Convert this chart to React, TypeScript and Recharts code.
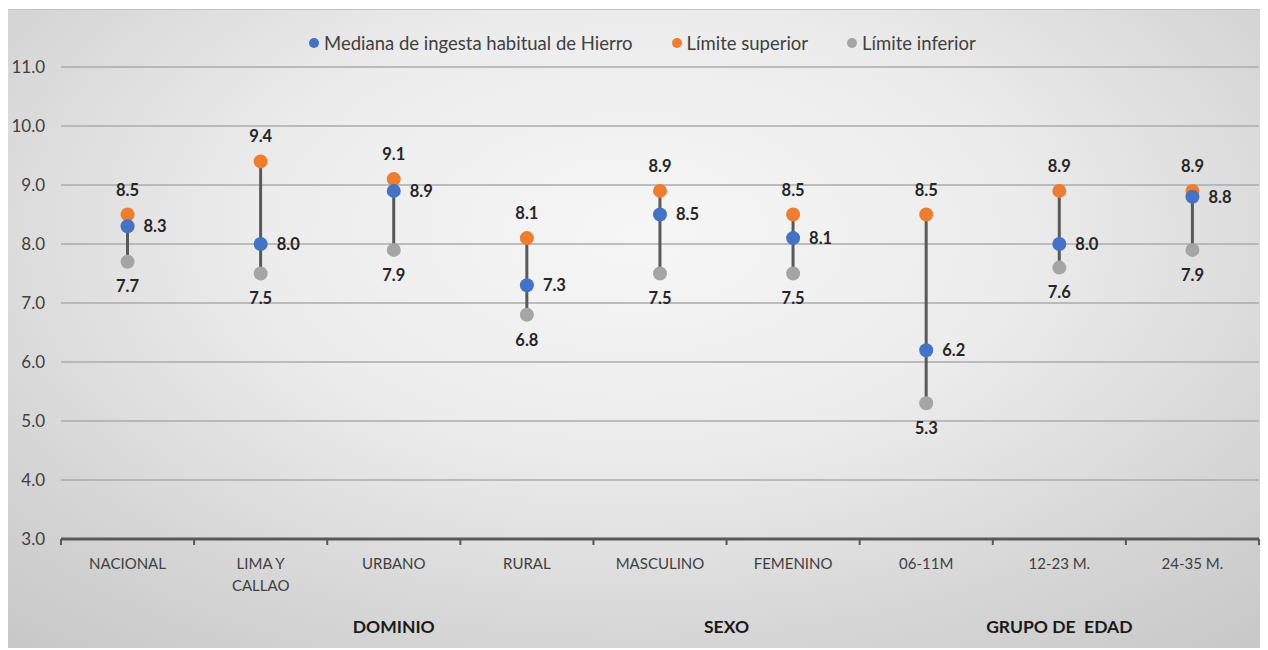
import React from 'react';
import { ComposedChart, Bar, Line, XAxis, YAxis, CartesianGrid, LabelList } from 'recharts';

const categories = ['NACIONAL', 'LIMA Y|CALLAO', 'URBANO', 'RURAL', 'MASCULINO', 'FEMENINO', '06-11M', '12-23 M.', '24-35 M.'];
const medianValues = [8.3, 8.0, 8.9, 7.3, 8.5, 8.1, 6.2, 8.0, 8.8];
const upperValues = [8.5, 9.4, 9.1, 8.1, 8.9, 8.5, 8.5, 8.9, 8.9];
const lowerValues = [7.7, 7.5, 7.9, 6.8, 7.5, 7.5, 5.3, 7.6, 7.9];
const groups = [
  { name: 'DOMINIO', at: 2.5 },
  { name: 'SEXO', at: 5 },
  { name: 'GRUPO DE  EDAD', at: 7.5 },
];
const yTicks = [3, 4, 5, 6, 7, 8, 9, 10, 11];
const seriesNames = ['Mediana de ingesta habitual de Hierro', 'Límite superior', 'Límite inferior'];

const BLUE = '#4472C4';
const ORANGE = '#ED7D31';
const GRAY = '#A5A5A5';
const FONT = 'Lato, "Open Sans", sans-serif';

const data = categories.map((c, i) => ({
  x: i + 0.5,
  name: c,
  median: medianValues[i],
  upper: upperValues[i],
  lower: lowerValues[i],
  range: [lowerValues[i], upperValues[i]],
}));

const xTicks: number[] = [];
for (let i = 0; i <= categories.length * 2; i++) xTicks.push(i / 2);

const XTick = (props: any) => {
  const { x, y, payload } = props;
  const v = payload.value as number;
  const items: React.ReactNode[] = [];
  if (Number.isInteger(v)) {
    items.push(<line key="t" x1={x} x2={x} y1={y} y2={y + 6} stroke="#595959" strokeWidth={2} />);
  } else {
    const idx = Math.floor(v);
    const lines = (categories[idx] || '').split('|');
    lines.forEach((ln, k) => {
      items.push(
        <text key={'c' + k} x={x} y={y + 24 + k * 22} textAnchor="middle" dominantBaseline="central" fontSize={15} fill="#404040" fontFamily={FONT}>
          {ln}
        </text>
      );
    });
  }
  const g = groups.find((gr) => gr.at === v);
  if (g) {
    items.push(
      <text key="g" x={x} y={y + 87} textAnchor="middle" dominantBaseline="central" fontSize={17.5} fontWeight="bold" fill="#1a1a1a" fontFamily={FONT} style={{ whiteSpace: 'pre' }}>
        {g.name}
      </text>
    );
  }
  return <g>{items}</g>;
};

const labelStyle = { fontSize: 16.5, fontWeight: 'bold' as const, fill: '#262626', fontFamily: FONT };

export default function App() {
  const legendColors = [BLUE, ORANGE, GRAY];
  return (
    <div
      style={{
        position: 'relative',
        top: 1,
        left: -2,
        width: 1261,
        height: 640,
        background: 'radial-gradient(ellipse 75% 85% at 50% 35%, #f6f6f6 0%, #ececec 40%, #d6d6d6 75%, #c8c8c8 100%)',
        boxSizing: 'border-box',
        borderTop: '1px solid #c4c4c4',
        borderLeft: '1px solid #c4c4c4',
      }}
    >
      <div
        style={{
          position: 'absolute',
          top: 22,
          left: 302,
          display: 'flex',
          alignItems: 'center',
          fontFamily: FONT,
          fontSize: 18.5,
          color: '#404040',
          whiteSpace: 'nowrap',
        }}
      >
        {seriesNames.map((n, i) => (
          <div key={n} style={{ display: 'flex', alignItems: 'center', marginRight: 39 }}>
            <span style={{ width: 10, height: 10, borderRadius: '50%', background: legendColors[i], display: 'inline-block', marginRight: 5 }} />
            <span>{n}</span>
          </div>
        ))}
      </div>
      <ComposedChart
        width={1261}
        height={640}
        data={data}
        margin={{ top: 57, right: 9, bottom: 0, left: 0 }}
        style={{ position: 'absolute', top: 0, left: 0 }}
      >
        <CartesianGrid vertical={false} stroke="#ababab" strokeWidth={1.5} />
        <XAxis
          dataKey="x"
          type="number"
          domain={[0, categories.length]}
          ticks={xTicks}
          interval={0}
          tick={<XTick />}
          tickLine={false}
          tickSize={0}
          tickMargin={0}
          height={111}
          axisLine={{ stroke: '#595959', strokeWidth: 3 }}
          allowDataOverflow
        />
        <YAxis
          domain={[3, 11]}
          ticks={yTicks}
          interval={0}
          width={54}
          axisLine={false}
          tickLine={false}
          tickSize={0}
          tickMargin={16}
          tickFormatter={(v: number) => v.toFixed(1)}
          tick={{ fontSize: 17, fill: '#404040', fontFamily: FONT }}
          allowDataOverflow
        />
        <Bar dataKey="range" barSize={3} fill="#595959" isAnimationActive={false} />
        <Line dataKey="lower" stroke="none" isAnimationActive={false} activeDot={false}
          dot={{ r: 7, fill: GRAY, stroke: 'none', fillOpacity: 1 }}>
          <LabelList dataKey="lower" position="bottom" offset={19} formatter={(v: number) => v.toFixed(1)} style={labelStyle} />
        </Line>
        <Line dataKey="upper" stroke="none" isAnimationActive={false} activeDot={false}
          dot={{ r: 7, fill: ORANGE, stroke: 'none', fillOpacity: 1 }}>
          <LabelList dataKey="upper" position="top" offset={19} formatter={(v: number) => v.toFixed(1)} style={labelStyle} />
        </Line>
        <Line dataKey="median" stroke="none" isAnimationActive={false} activeDot={false}
          dot={{ r: 7, fill: BLUE, stroke: 'none', fillOpacity: 1 }}>
          <LabelList dataKey="median" position="right" offset={16} formatter={(v: number) => v.toFixed(1)} style={labelStyle} />
        </Line>
      </ComposedChart>
    </div>
  );
}
